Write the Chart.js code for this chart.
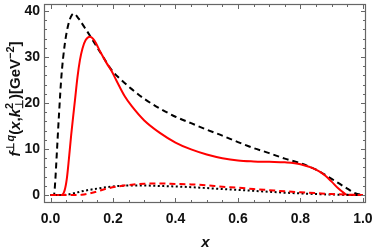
<!DOCTYPE html>
<html>
<head>
<meta charset="utf-8">
<script src="https://cdn.jsdelivr.net/npm/chart.js@4"></script>
<style>
  html, body { margin: 0; padding: 0; background: #fff; }
  #wrap { width: 374px; height: 251px; }
</style>
</head>
<body>
<div id="wrap"><canvas id="chart" width="374" height="251"></canvas></div>
<script>
// values
const blackDashX = [0.0, 0.011, 0.015, 0.02, 0.027, 0.035, 0.045, 0.055, 0.065, 0.074, 0.09, 0.11, 0.13, 0.16, 0.195, 0.22, 0.26, 0.30, 0.35, 0.40, 0.45, 0.50, 0.55, 0.60, 0.65, 0.70, 0.75, 0.80, 0.85, 0.90, 0.95, 0.975, 1.0];
const blackDashY = [0, 0, 3, 9, 17.5, 26, 32.5, 36.5, 38.7, 39.4, 38.3, 36.3, 34.2, 30.9, 27.2, 25.4, 23.0, 20.9, 18.8, 17.0, 15.6, 14.2, 12.9, 11.5, 10.2, 9.1, 7.9, 6.9, 5.5, 3.5, 1.4, 0.4, 0];

const redSolidX = [0.0, 0.035, 0.045, 0.052, 0.059, 0.066, 0.072, 0.078, 0.086, 0.094, 0.102, 0.112, 0.126, 0.14, 0.16, 0.18, 0.195, 0.21, 0.238, 0.26, 0.30, 0.35, 0.40, 0.45, 0.50, 0.55, 0.60, 0.65, 0.70, 0.75, 0.80, 0.85, 0.88, 0.90, 0.92, 0.94, 0.95, 1.0];
const redSolidY = [0, 0, 1, 3.5, 8, 13, 16.8, 20.5, 25.5, 29.3, 31.8, 33.6, 34.4, 33.6, 31.0, 28.6, 27.0, 25.0, 21.4, 19.3, 16.2, 13.5, 11.4, 9.9, 8.8, 8.0, 7.5, 7.3, 7.2, 7.1, 6.7, 5.5, 4.2, 2.9, 1.5, 0.4, 0, 0];

const blackDotX = [0.0, 0.04, 0.07, 0.10, 0.15, 0.20, 0.25, 0.30, 0.35, 0.40, 0.45, 0.50, 0.55, 0.60, 0.65, 0.70, 0.75, 0.80, 0.85, 0.90, 0.95, 1.0];
const blackDotY = [0, 0, 0.3, 0.8, 1.4, 1.85, 2.05, 2.05, 1.95, 1.85, 1.7, 1.5, 1.3, 1.1, 0.9, 0.7, 0.5, 0.35, 0.2, 0.1, 0.03, 0];

const redDashX = [0.0, 0.08, 0.10, 0.14, 0.18, 0.22, 0.26, 0.30, 0.35, 0.40, 0.45, 0.50, 0.55, 0.60, 0.65, 0.70, 0.75, 0.80, 0.85, 0.90, 0.95, 1.0];
const redDashY = [0, 0, 0.05, 0.6, 1.4, 1.9, 2.25, 2.45, 2.5, 2.4, 2.3, 2.1, 1.8, 1.6, 1.3, 1.05, 0.8, 0.6, 0.4, 0.2, 0.08, 0];

const xMajorTicks = [0.0, 0.2, 0.4, 0.6, 0.8, 1.0];
const yMajorTicks = [0, 10, 20, 30, 40];

const FONT = '"Liberation Sans", Arial, sans-serif';
const FRAME = '#666';

function pts(xs, ys) {
    return xs.map((x, i) => ({ x: x, y: ys[i] }));
}

function line(label, xs, ys, color, dash) {
    return {
        label: label,
        data: pts(xs, ys),
        borderColor: color,
        borderWidth: 2,
        borderDash: dash,
        pointRadius: 0,
        fill: false,
        cubicInterpolationMode: 'monotone'
    };
}

// frame with inward ticks on all four sides, Mathematica style
const framePlugin = {
    id: 'frame',
    afterDraw(chart) {
        const ctx = chart.ctx;
        const a = chart.chartArea;
        const xs = chart.scales.x;
        const ys = chart.scales.y;
        ctx.save();
        ctx.strokeStyle = FRAME;
        ctx.lineWidth = 1;
        ctx.beginPath();
        for (let v = 0; v <= 1.0001; v += 0.05) {
            const px = Math.round(xs.getPixelForValue(v)) + 0.5;
            const major = Math.abs(v * 5 - Math.round(v * 5)) < 1e-6;
            const len = major ? 5 : 3;
            ctx.moveTo(px, a.bottom); ctx.lineTo(px, a.bottom - len);
            ctx.moveTo(px, a.top); ctx.lineTo(px, a.top + len);
        }
        for (let v = 0; v <= 40; v += 2) {
            const py = Math.round(ys.getPixelForValue(v)) + 0.5;
            const len = v % 10 === 0 ? 5 : 3;
            ctx.moveTo(a.left, py); ctx.lineTo(a.left + len, py);
            ctx.moveTo(a.right, py); ctx.lineTo(a.right - len, py);
        }
        ctx.stroke();
        ctx.lineWidth = 1.2;
        ctx.strokeRect(a.left + 0.5, a.top + 0.5, a.right - a.left - 1, a.bottom - a.top - 1);

        // axis titles
        ctx.fillStyle = '#111';
        ctx.textBaseline = 'alphabetic';
        ctx.font = 'italic bold 15px ' + FONT;
        ctx.textAlign = 'center';
        ctx.fillText('x', (a.left + a.right) / 2 + 0.5, 247);

        ctx.translate(20, 99);
        ctx.rotate(-Math.PI / 2);
        ctx.textAlign = 'left';
        const big = 'bold 15px ' + FONT;
        const bigI = 'italic bold 15px ' + FONT;
        const small = 'bold 11px ' + FONT;
        const smallI = 'italic bold 11px ' + FONT;
        // [text, font, dy, advance]
        const parts = [
            ['f', bigI, 0, true],
            ['\u22A5', small, -6, true],
            ['q', smallI, -6, true],
            ['(', big, 0, true],
            ['x', bigI, 0, true],
            [',', big, 0, true],
            ['k', bigI, 0, true],
            ['\u22A5', small, 3, false],
            ['2', small, -7, true],
            [')', big, 0, true],
            ['[GeV', big, 0, true],
            ['\u22122', small, -6, true],
            [']', big, 0, true]
        ];
        let total = 0;
        parts.forEach(p => {
            ctx.font = p[1];
            if (p[3]) total += ctx.measureText(p[0]).width;
        });
        // stacked sub/sup: advance by wider of the two
        ctx.font = small;
        const subW = ctx.measureText('\u22A5').width, supW = ctx.measureText('2').width;
        total += Math.max(subW, supW) - supW;
        let cx = -total / 2;
        parts.forEach(p => {
            ctx.font = p[1];
            ctx.fillText(p[0], cx, p[2]);
            if (p[0] === '2' && p[1] === small) cx += Math.max(subW, supW);
            else if (p[3]) cx += ctx.measureText(p[0]).width;
        });
        ctx.restore();
    }
};

new Chart(document.getElementById('chart'), {
    type: 'line',
    data: {
        datasets: [
            line('red dashed', redDashX, redDashY, '#ff0000', [6, 4]),
            line('black dotted', blackDotX, blackDotY, '#000', [2, 2.5]),
            line('red solid', redSolidX, redSolidY, '#ff0000', []),
            line('black dashed', blackDashX, blackDashY, '#000', [6, 4])
        ]
    },
    options: {
        responsive: false,
        animation: false,
        events: [],
        layout: { padding: { top: 4, right: 8, left: 0, bottom: 0 } },
        plugins: { legend: { display: false }, tooltip: { enabled: false } },
        scales: {
            x: {
                type: 'linear',
                min: -0.021,
                max: 1.01,
                grid: { display: false, drawTicks: false },
                border: { display: false },
                afterBuildTicks: s => { s.ticks = xMajorTicks.map(v => ({ value: v })); },
                afterFit: s => { s.height = 48; s.paddingLeft = 0; s.paddingRight = 0; },
                ticks: {
                    padding: 8,
                    maxRotation: 0,
                    autoSkip: false,
                    color: '#111',
                    font: { family: FONT, size: 14, weight: 'bold' },
                    callback: v => v.toFixed(1)
                }
            },
            y: {
                type: 'linear',
                min: -1.74,
                max: 41.5,
                grid: { display: false, drawTicks: false },
                border: { display: false },
                afterBuildTicks: s => { s.ticks = yMajorTicks.map(v => ({ value: v })); },
                afterFit: s => { s.width = 44; s.paddingTop = 0; s.paddingBottom = 0; },
                ticks: {
                    padding: 4,
                    color: '#111',
                    font: { family: FONT, size: 14, weight: 'bold' },
                    callback: v => String(v)
                }
            }
        }
    },
    plugins: [framePlugin]
});
</script>
</body>
</html>
